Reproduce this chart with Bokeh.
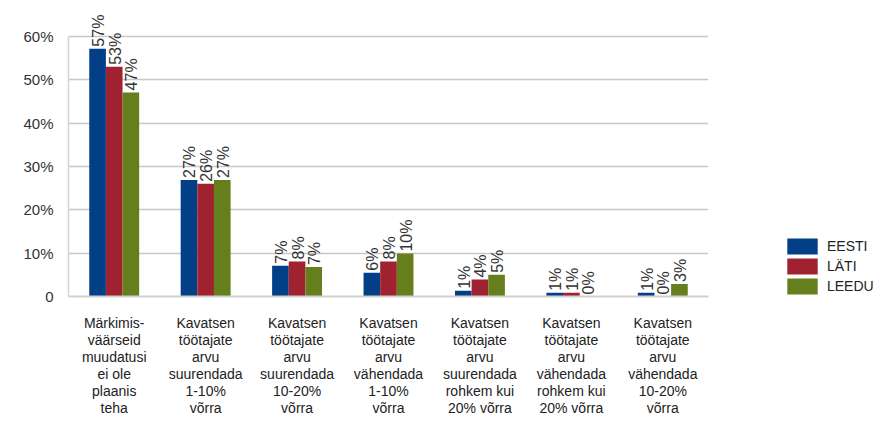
import math
from bokeh.plotting import figure
from bokeh.models import (ColumnDataSource, FactorRange, LabelSet, Legend, LegendItem,
                          NumeralTickFormatter, FixedTicker)
from bokeh.core.properties import value
from bokeh.transform import dodge
from bokeh.embed import file_html
from bokeh.resources import INLINE

categories = [
    "Märkimis-\nväärseid\nmuudatusi\nei ole\nplaanis\nteha",
    "Kavatsen\ntöötajate\narvu\nsuurendada\n1-10%\nvõrra",
    "Kavatsen\ntöötajate\narvu\nsuurendada\n10-20%\nvõrra",
    "Kavatsen\ntöötajate\narvu\nvähendada\n1-10%\nvõrra",
    "Kavatsen\ntöötajate\narvu\nsuurendada\nrohkem kui\n20% võrra",
    "Kavatsen\ntöötajate\narvu\nvähendada\nrohkem kui\n20% võrra",
    "Kavatsen\ntöötajate\narvu\nvähendada\n10-20%\nvõrra",
]
series_names = ["EESTI", "LÄTI", "LEEDU"]
eesti = [57.2, 26.9, 7.1, 5.5, 1.3, 0.85, 0.85]
lati = [53.0, 26.0, 8.1, 8.1, 3.9, 0.85, 0.0]
leedu = [47.1, 26.9, 6.8, 9.9, 5.0, 0.0, 2.9]
y_ticks = [0, 0.1, 0.2, 0.3, 0.4, 0.5, 0.6]

colors = ["#023F86", "#A0212F", "#667F1D"]
series = [eesti, lati, leedu]
offsets = [-0.182, 0.0, 0.182]

y_top = 0.6 * 289 / 260
p = figure(frame_width=640, frame_height=289,
           x_range=FactorRange(*categories, range_padding=0),
           y_range=(0, y_top), output_backend="svg", toolbar_location=None,
           min_border_left=68, min_border_right=160, min_border_top=7, min_border_bottom=110)
p.outline_line_color = None
p.background_fill_color = "white"

items = []
for name, vals, col, off in zip(series_names, series, colors, offsets):
    src = ColumnDataSource(dict(cat=categories, v=[x / 100 for x in vals],
                                lab=[f"{round(x)}%" for x in vals]))
    r = p.vbar(x=dodge("cat", off, range=p.x_range), top="v", width=0.182, source=src,
               fill_color=col, line_color=None)
    items.append(LegendItem(label=name, renderers=[r]))
    ls = LabelSet(x=dodge("cat", off, range=p.x_range), y="v", text="lab", source=src,
                  angle=math.pi / 2, text_align="left", text_baseline="middle",
                  x_offset=1, y_offset=2, text_font=value("Liberation Sans"),
                  text_font_size=value("16px"), text_color="#333333")
    p.add_layout(ls)

p.yaxis.ticker = FixedTicker(ticks=y_ticks)
p.yaxis.bounds = (0, 0.6)
p.yaxis.formatter = NumeralTickFormatter(format="0%")
p.yaxis.major_label_overrides = {0: "0"}
p.yaxis.major_tick_line_color = None
p.yaxis.minor_tick_line_color = None
p.yaxis.axis_line_color = "#d4d4d4"
p.yaxis.axis_line_width = 1.5
p.yaxis.major_label_text_font = "Liberation Sans"
p.yaxis.major_label_text_font_size = "15px"
p.yaxis.major_label_text_color = "#333333"
p.yaxis.major_label_standoff = 9

p.xaxis.major_tick_line_color = None
p.xaxis.axis_line_color = "#d0d0d0"
p.xaxis.axis_line_width = 2
p.xaxis.major_label_text_font = "Liberation Sans"
p.xaxis.major_label_text_font_size = "14px"
p.xaxis.major_label_text_color = "#222222"
p.xaxis.major_label_text_line_height = 1.07
p.xaxis.major_label_standoff = 12

p.xgrid.grid_line_color = None
p.ygrid.grid_line_color = "#c8c8c8"
p.ygrid.grid_line_width = 1.5

legend = Legend(items=items, location=(75, 0), glyph_width=38, glyph_height=20,
                label_height=20, spacing=0, padding=0, margin=0, label_standoff=6,
                label_text_font="Liberation Sans", label_text_font_size="14px",
                label_text_color="#222222", border_line_color=None,
                background_fill_alpha=0)
p.add_layout(legend, "right")

open("out.html", "w").write(file_html(p, INLINE))
